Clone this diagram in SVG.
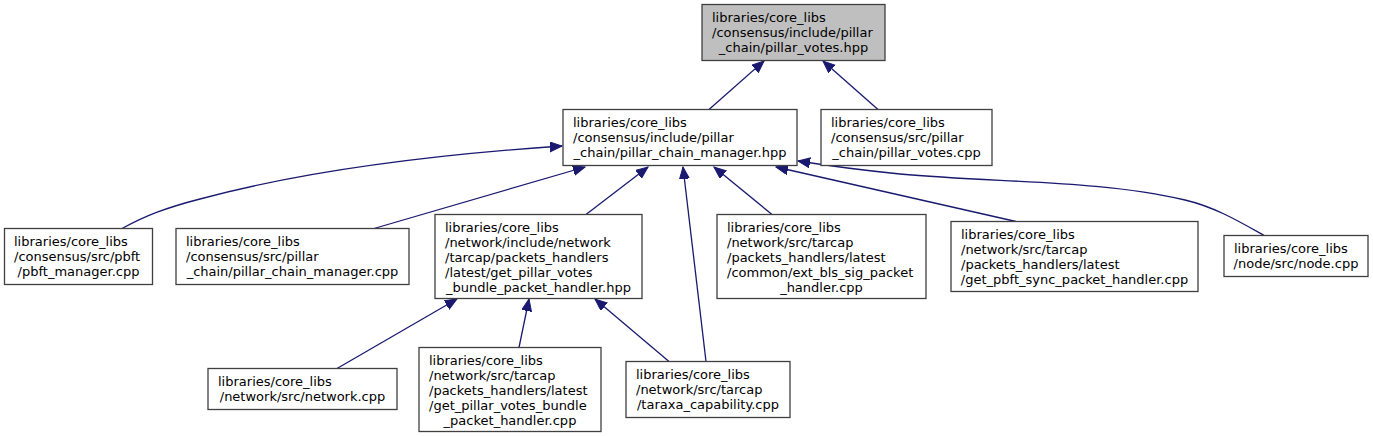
<svg xmlns="http://www.w3.org/2000/svg" width="1373" height="437" viewBox="0 0 1373 437">
<style>
.box{fill:#ffffff;stroke:#404040;stroke-width:1.3}
.root{fill:#bfbfbf;stroke:#404040;stroke-width:1.3}
text{font-family:"DejaVu Sans",sans-serif;font-size:13px;fill:#000}
.c{text-anchor:middle}
.e{fill:none;stroke:#191970;stroke-width:1.3}
</style>
<defs>
<marker id="ah" markerUnits="userSpaceOnUse" markerWidth="14" markerHeight="12" refX="12" refY="5" orient="auto">
<polygon points="0,0 12,5 0,10" fill="#191970" stroke="#191970" stroke-width="1"/>
</marker>
</defs>
<rect width="1373" height="437" fill="#ffffff"/>
<g id="connectors">
<path class="e" marker-end="url(#ah)" d="M709,109.5 L764,61"/>
<path class="e" marker-end="url(#ah)" d="M878,109.5 L823,61"/>
<path class="e" marker-end="url(#ah)" d="M122,228.5 C145,216 165,208 200,199 C300,172 430,155 562,146"/>
<path class="e" marker-end="url(#ah)" d="M374,228.5 L585,167"/>
<path class="e" marker-end="url(#ah)" d="M586,214.5 L648,167"/>
<path class="e" marker-end="url(#ah)" d="M706,361.5 L683,167"/>
<path class="e" marker-end="url(#ah)" d="M772,214.5 L714,167"/>
<path class="e" marker-end="url(#ah)" d="M1016,221.5 L776,167"/>
<path class="e" marker-end="url(#ah)" d="M1265,236 C1240,222 1215,207 1185,200 C1100,180 1000,183 900,174 C860,170 830,166 798,161"/>
<path class="e" marker-end="url(#ah)" d="M337,368.5 L457,299"/>
<path class="e" marker-end="url(#ah)" d="M519,347.5 L529,299"/>
<path class="e" marker-end="url(#ah)" d="M669,361.5 L595,299"/>
</g>
<g id="n0">
<rect class="root" x="702" y="4.5" width="183" height="56"/>
<text x="712" y="22">libraries/core_libs</text>
<text x="712" y="37">/consensus/include/pillar</text>
<text class="c" x="793.5" y="52">_chain/pillar_votes.hpp</text>
</g>
<g id="n1">
<rect class="box" x="563" y="109.5" width="234" height="56"/>
<text x="573" y="127">libraries/core_libs</text>
<text x="573" y="142">/consensus/include/pillar</text>
<text class="c" x="680" y="157">_chain/pillar_chain_manager.hpp</text>
</g>
<g id="n2">
<rect class="box" x="821" y="109.5" width="171" height="56"/>
<text x="831" y="127">libraries/core_libs</text>
<text x="831" y="142">/consensus/src/pillar</text>
<text class="c" x="906.5" y="157">_chain/pillar_votes.cpp</text>
</g>
<g id="n3">
<rect class="box" x="4.5" y="228.5" width="148" height="56"/>
<text x="14" y="246">libraries/core_libs</text>
<text x="14" y="261">/consensus/src/pbft</text>
<text class="c" x="78.5" y="276">/pbft_manager.cpp</text>
</g>
<g id="n4">
<rect class="box" x="176" y="228.5" width="233" height="56"/>
<text x="186" y="246">libraries/core_libs</text>
<text x="186" y="261">/consensus/src/pillar</text>
<text class="c" x="292.5" y="276">_chain/pillar_chain_manager.cpp</text>
</g>
<g id="n5">
<rect class="box" x="435" y="214.5" width="207" height="84"/>
<text x="445" y="232">libraries/core_libs</text>
<text x="445" y="247">/network/include/network</text>
<text x="445" y="262">/tarcap/packets_handlers</text>
<text x="445" y="277">/latest/get_pillar_votes</text>
<text class="c" x="538.5" y="292">_bundle_packet_handler.hpp</text>
</g>
<g id="n6">
<rect class="box" x="717" y="214.5" width="209" height="84"/>
<text x="727" y="232">libraries/core_libs</text>
<text x="727" y="247">/network/src/tarcap</text>
<text x="727" y="262">/packets_handlers/latest</text>
<text x="727" y="277">/common/ext_bls_sig_packet</text>
<text class="c" x="821.5" y="292">_handler.cpp</text>
</g>
<g id="n7">
<rect class="box" x="951" y="221.5" width="247" height="70"/>
<text x="961" y="239">libraries/core_libs</text>
<text x="961" y="254">/network/src/tarcap</text>
<text x="961" y="269">/packets_handlers/latest</text>
<text class="c" x="1074.5" y="284">/get_pbft_sync_packet_handler.cpp</text>
</g>
<g id="n8">
<rect class="box" x="1224" y="235.5" width="144" height="41"/>
<text x="1234" y="253">libraries/core_libs</text>
<text class="c" x="1296" y="268">/node/src/node.cpp</text>
</g>
<g id="n9">
<rect class="box" x="208" y="368.5" width="189" height="41"/>
<text x="218" y="386">libraries/core_libs</text>
<text class="c" x="302.5" y="401">/network/src/network.cpp</text>
</g>
<g id="n10">
<rect class="box" x="419" y="347.5" width="182" height="84"/>
<text x="429" y="365">libraries/core_libs</text>
<text x="429" y="380">/network/src/tarcap</text>
<text x="429" y="395">/packets_handlers/latest</text>
<text x="429" y="410">/get_pillar_votes_bundle</text>
<text class="c" x="510" y="425">_packet_handler.cpp</text>
</g>
<g id="n11">
<rect class="box" x="626" y="361.5" width="164" height="56"/>
<text x="636" y="379">libraries/core_libs</text>
<text x="636" y="394">/network/src/tarcap</text>
<text class="c" x="708" y="409">/taraxa_capability.cpp</text>
</g>
</svg>
